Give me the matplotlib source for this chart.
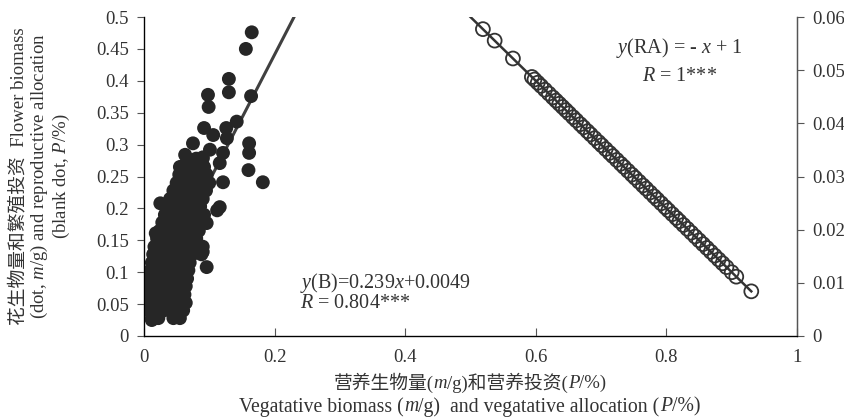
import numpy as np
import matplotlib.pyplot as plt

plt.rcParams['font.family'] = ['Liberation Serif', 'Noto Sans CJK SC']
plt.rcParams['mathtext.fontset'] = 'custom'
plt.rcParams['mathtext.rm'] = 'Liberation Serif'
plt.rcParams['mathtext.it'] = 'Liberation Serif:italic'

# flower biomass (dot) vs vegetative biomass, dense cloud read row by row
cloud_y = [0.028, 0.04, 0.052, 0.065, 0.078, 0.09, 0.103, 0.115, 0.128, 0.14,
           0.153, 0.165, 0.178, 0.19, 0.203, 0.215, 0.228, 0.24, 0.253, 0.265, 0.278]
cloud_x = [[0.012, 0.022, 0.045, 0.055],
           [0.008, 0.018, 0.03, 0.04, 0.05, 0.06],
           [0.005, 0.015, 0.025, 0.035, 0.045, 0.055, 0.064],
           [0.004, 0.013, 0.023, 0.033, 0.043, 0.053, 0.062],
           [0.006, 0.016, 0.026, 0.036, 0.046, 0.056, 0.064],
           [0.008, 0.018, 0.028, 0.038, 0.048, 0.058, 0.066],
           [0.01, 0.02, 0.03, 0.04, 0.05, 0.06, 0.068],
           [0.012, 0.022, 0.032, 0.042, 0.052, 0.062, 0.07],
           [0.014, 0.024, 0.034, 0.044, 0.054, 0.064, 0.074, 0.088],
           [0.016, 0.026, 0.036, 0.046, 0.056, 0.066, 0.076, 0.09],
           [0.02, 0.03, 0.04, 0.05, 0.06, 0.07, 0.08],
           [0.024, 0.034, 0.044, 0.054, 0.064, 0.074, 0.084],
           [0.028, 0.038, 0.048, 0.058, 0.068, 0.078, 0.088],
           [0.032, 0.042, 0.052, 0.062, 0.072, 0.082, 0.092],
           [0.036, 0.046, 0.056, 0.066, 0.076, 0.086],
           [0.04, 0.05, 0.06, 0.07, 0.08, 0.09],
           [0.045, 0.055, 0.065, 0.075, 0.085, 0.095],
           [0.05, 0.06, 0.07, 0.08, 0.09, 0.1],
           [0.054, 0.064, 0.074, 0.084, 0.096],
           [0.058, 0.07, 0.082, 0.092],
           [0.066, 0.08, 0.09]]
# scattered points outside the cloud
out_x = [0.165, 0.156, 0.130, 0.130, 0.098, 0.099, 0.164, 0.142, 0.126,
         0.092, 0.106, 0.161, 0.161, 0.160, 0.182, 0.121, 0.075, 0.063,
         0.116, 0.112, 0.096, 0.096, 0.090, 0.018, 0.025, 0.012, 0.0045,
         0.127, 0.121, 0.101, 0.090, 0.116, 0.055]
out_y = [0.476, 0.450, 0.403, 0.382, 0.378, 0.359, 0.376, 0.336, 0.326,
         0.326, 0.315, 0.302, 0.287, 0.260, 0.241, 0.241, 0.302, 0.284,
         0.202, 0.197, 0.177, 0.108, 0.132, 0.161, 0.208, 0.025, 0.069,
         0.310, 0.287, 0.292, 0.280, 0.271, 0.265]

# reproductive allocation (blank dot) vs vegetative allocation
veg_a = [0.519, 0.537, 0.565, 0.594, 0.598, 0.603, 0.608, 0.614, 0.62, 0.626,
         0.631, 0.636, 0.641, 0.646, 0.651, 0.657, 0.662, 0.668, 0.673, 0.679,
         0.684, 0.69, 0.696, 0.701, 0.707, 0.713, 0.718, 0.724, 0.73, 0.735,
         0.741, 0.747, 0.752, 0.758, 0.764, 0.769, 0.775, 0.781, 0.786, 0.792,
         0.798, 0.803, 0.809, 0.815, 0.82, 0.826, 0.832, 0.838, 0.844, 0.85,
         0.856, 0.862, 0.868, 0.874, 0.88, 0.886, 0.892, 0.9, 0.907, 0.93]
rep_a = [0.481, 0.463, 0.435, 0.406, 0.402, 0.397, 0.392, 0.386, 0.38, 0.374,
         0.369, 0.364, 0.359, 0.354, 0.349, 0.343, 0.338, 0.332, 0.327, 0.321,
         0.316, 0.31, 0.304, 0.299, 0.293, 0.287, 0.282, 0.276, 0.27, 0.265,
         0.259, 0.253, 0.248, 0.242, 0.236, 0.231, 0.225, 0.219, 0.214, 0.208,
         0.202, 0.197, 0.191, 0.185, 0.18, 0.174, 0.168, 0.162, 0.156, 0.15,
         0.144, 0.138, 0.132, 0.126, 0.12, 0.114, 0.108, 0.1, 0.093, 0.07]

# trend lines as drawn in the figure
b_slope, b_inter, b_range = 1.98, 0.045, (0.0, 0.23)
ra_slope, ra_inter, ra_range = -1.0, 1.0, (0.5, 0.93)

yticks = [0, 0.05, 0.1, 0.15, 0.2, 0.25, 0.3, 0.35, 0.4, 0.45, 0.5]
yticklabels = ['0', '0.05', '0.1', '0.15', '0.2', '0.25', '0.3', '0.35', '0.4', '0.45', '0.5']
xticks = [0, 0.2, 0.4, 0.6, 0.8, 1]
xticklabels = ['0', '0.2', '0.4', '0.6', '0.8', '1']
rticks = [0, 0.01, 0.02, 0.03, 0.04, 0.05, 0.06]
rticklabels = ['0', '0.01', '0.02', '0.03', '0.04', '0.05', '0.06']

veg_b = [x for row in cloud_x for x in row] + out_x
flower_b = [y for y, row in zip(cloud_y, cloud_x) for _ in row] + out_y

dark = '#262626'
grey = '#555555'
txt = '#333333'
fs = 13.5

fig = plt.figure(figsize=(8.45, 4.2), dpi=100)
ax = fig.add_axes([0.1704, 0.2, 0.7728, 0.7595])

xb = np.array(b_range)
ax.plot(xb, b_slope * xb + b_inter, color='#404040', lw=2.2, zorder=2)
ax.scatter(veg_b, flower_b, s=100, color=dark, edgecolors='none', zorder=3)

xr = np.array(ra_range)
ax.plot(xr, ra_slope * xr + ra_inter, color='#333333', lw=1.8, zorder=2)
ax.scatter(veg_a, rep_a, s=100, facecolors='none', edgecolors='#333333',
           linewidths=1.3, zorder=3)

ax.set_xlim(0, 1)
ax.set_ylim(0, 0.5)
ax.set_xticks(xticks)
ax.set_xticklabels(xticklabels)
ax.set_yticks(yticks)
ax.set_yticklabels(yticklabels)
ax.tick_params(axis='x', direction='in', length=6, color=grey, labelsize=fs,
               labelcolor=txt, pad=9)
ax.tick_params(axis='y', direction='out', length=5, color=grey, labelsize=fs,
               labelcolor=txt, pad=6)
ax.spines['top'].set_visible(False)
for s in ['left', 'bottom', 'right']:
    ax.spines[s].set_color(grey)
    ax.spines[s].set_linewidth(1.0)

ax2 = ax.twinx()
ax2.set_ylim(0, 0.06)
ax2.set_yticks(rticks)
ax2.set_yticklabels(rticklabels)
ax2.tick_params(axis='y', direction='out', length=5, color=grey, labelsize=fs,
                labelcolor=txt, pad=6)
ax2.spines['top'].set_visible(False)
ax2.spines['right'].set_color(grey)

fa = 14.5
ax.text(0.239, 0.075, r'$\mathit{y}$(B)=0.239$\mathit{x}$+0.0049', fontsize=fa, color=txt)
ax.text(0.239, 0.044, r'$\mathit{R}$ = 0.804***', fontsize=fa, color=txt)
ax.text(0.82, 0.443, r'$\mathit{y}$(RA) = - $\mathit{x}$ + 1', fontsize=fa,
        color=txt, ha='center')
ax.text(0.82, 0.4, r'$\mathit{R}$ = 1***', fontsize=fa, color=txt, ha='center')


def mixed_line(parts, xc, y, size):
    # draw a line of text from (string, italic) pieces, centred at xc
    fig.canvas.draw()
    r = fig.canvas.get_renderer()
    items = []
    total = 0
    for s, it in parts:
        t = fig.text(0, y, s, fontsize=size, color=txt, va='center',
                     fontstyle='italic' if it else 'normal')
        w = t.get_window_extent(r).width / fig.bbox.width
        items.append((t, w))
        total += w
    x = xc - total / 2
    for t, w in items:
        t.set_x(x)
        x += w


mixed_line([('营养生物量(', False), ('m', True), ('/g)和营养投资(', False),
            ('P', True), ('/%)', False)], 0.556, 0.088, fs)
mixed_line([('Vegatative biomass (', False), ('m', True),
            ('/g)  and vegatative allocation (', False), ('P', True), ('/%)', False)],
           0.556, 0.031, 14.2)

fig.text(0.022, 0.58, '花生物量和繁殖投资  Flower biomass', rotation=90,
         ha='center', va='center', fontsize=fs, color=txt)
fig.text(0.047, 0.58, r'(dot, $\mathit{m}$/g) and reproductive allocation', rotation=90,
         ha='center', va='center', fontsize=fs, color=txt)
fig.text(0.073, 0.58, r'(blank dot, $\mathit{P}$/%)', rotation=90,
         ha='center', va='center', fontsize=fs, color=txt)

fig.savefig('out.png', dpi=100)
